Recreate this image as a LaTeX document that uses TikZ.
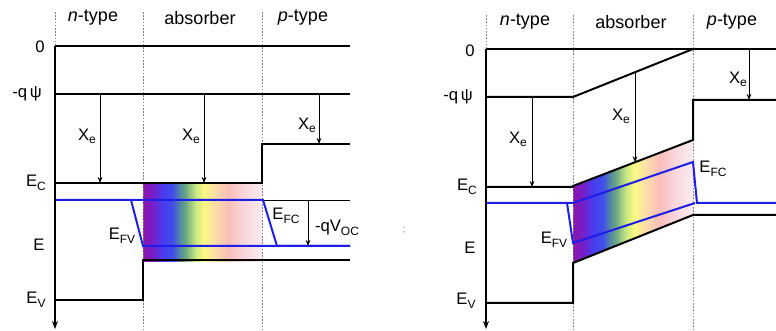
\documentclass[tikz,border=0pt]{standalone}
\usepackage{fontspec}
\setmainfont{Liberation Sans}
\usetikzlibrary{arrows.meta,calc}
\definecolor{fermiblue}{RGB}{30,30,230}
\definecolor{sp0}{RGB}{140,20,170}
\definecolor{sp1}{RGB}{120,30,200}
\definecolor{sp2}{RGB}{70,60,240}
\definecolor{sp3}{RGB}{65,80,235}
\definecolor{sp4}{RGB}{80,130,170}
\definecolor{sp5}{RGB}{110,170,130}
\definecolor{sp6}{RGB}{200,230,130}
\definecolor{sp7}{RGB}{250,250,130}
\definecolor{sp8}{RGB}{252,220,170}
\definecolor{sp9}{RGB}{250,190,185}
\definecolor{sp10}{RGB}{248,215,220}
\definecolor{sp11}{RGB}{250,236,242}
\pgfdeclarehorizontalshading{spectrum}{100bp}{color(0bp)=(sp0); color(25bp)=(sp0); color(29bp)=(sp1); color(33.5bp)=(sp2); color(37.5bp)=(sp3); color(40bp)=(sp4); color(43bp)=(sp5); color(47bp)=(sp6); color(50.5bp)=(sp7); color(55.5bp)=(sp8); color(61bp)=(sp9); color(67.5bp)=(sp10); color(75bp)=(sp11); color(100bp)=(sp11)}
\newcommand{\lsub}[1]{\raisebox{-0.5ex}{\fontsize{9}{9}\selectfont #1}}
\newcommand{\esub}[1]{\raisebox{-0.35ex}{\fontsize{9}{9}\selectfont #1}}
\tikzset{
  band/.style={line width=1.5pt, black},
  fermi/.style={line width=1.5pt, fermiblue},
  thinline/.style={line width=0.6pt, black},
  thinarrow/.style={line width=0.7pt, black, -{Stealth[length=4.5pt,width=3.5pt]}},
  axisline/.style={line width=1.5pt, black, -{Stealth[length=6pt,width=4.5pt]}},
  divider/.style={gray, line width=0.4pt, dash pattern=on 1.2pt off 1.2pt},
  lbl/.style={font=\fontsize{12.5}{14}\selectfont, inner sep=0pt},
  hdr/.style={font=\fontsize{13.5}{16}\selectfont, inner sep=0pt},
}
\begin{document}
\begin{tikzpicture}[x=0.75pt,y=-0.75pt]
\useasboundingbox (0,0) rectangle (776,331);
% ================= LEFT DIAGRAM =================
\coordinate (LdA1) at (55,12);   \coordinate (LdA2) at (55,46);
\coordinate (LdB1) at (143,12);  \coordinate (LdB2) at (143,331);
\coordinate (LdC1) at (262,12);  \coordinate (LdC2) at (262,331);
\shade[shading=spectrum] (143,184) rectangle (262,262);
\draw[divider] (LdA1) -- (LdA2);
\draw[divider] (LdB1) -- (LdB2);
\draw[divider] (LdC1) -- (LdC2);
\node[hdr] (Lhn) at (93,18) {\itshape n\upshape -type};
\node[hdr] (Lha) at (200,18) {absorber};
\node[hdr] (Lhp) at (303,18) {\itshape p\upshape -type};
% vacuum zero and -q psi
\coordinate (L0a) at (55,46);  \coordinate (L0b) at (350,46);
\coordinate (Lqa) at (55,94);  \coordinate (Lqb) at (350,94);
\draw[band] (L0a) -- (L0b);
\draw[band] (Lqa) -- (Lqb);
% conduction band
\coordinate (Lc1) at (55,183); \coordinate (Lc2) at (262,183);
\coordinate (Lc3) at (262,144); \coordinate (Lc4) at (350,144);
\draw[band] (Lc1) -- (Lc2) -- (Lc3) -- (Lc4);
% valence band
\coordinate (Lv1) at (55,300); \coordinate (Lv2) at (143,300);
\coordinate (Lv3) at (143,260); \coordinate (Lv4) at (350,260);
\draw[band] (Lv1) -- (Lv2) -- (Lv3) -- (Lv4);
% Fermi levels
\coordinate (Lf1) at (55,200);  \coordinate (Lf2) at (263,200);
\coordinate (Lf3) at (277,246); \coordinate (Lf4) at (350,246);
\coordinate (Lg1) at (131,200); \coordinate (Lg2) at (143,246);
\coordinate (Lt2) at (350,200);
\draw[thinline] (Lf2) -- (Lt2);
\draw[fermi] (Lg1) -- (Lg2) -- (Lf4);
\draw[fermi] (Lf1) -- (Lf2) -- (Lf3) -- (Lf4);
% electron affinity arrows
\coordinate (Lx1a) at (100,94);  \coordinate (Lx1b) at (100,183);
\coordinate (Lx2a) at (204,94);  \coordinate (Lx2b) at (204,183);
\coordinate (Lx3a) at (319,94);  \coordinate (Lx3b) at (319,144);
\draw[thinarrow] (Lx1a) -- (Lx1b);
\draw[thinarrow] (Lx2a) -- (Lx2b);
\draw[thinarrow] (Lx3a) -- (Lx3b);
\coordinate (Lva) at (308,200); \coordinate (Lvb) at (308,246);
\draw[thinarrow] (Lva) -- (Lvb);
% axis
\coordinate (Lax1) at (55,46); \coordinate (Lax2) at (55,329);
\draw[axisline] (Lax1) -- (Lax2);
% labels
\node[lbl] (Ll0) at (40,47) {0};
\node[lbl] (Llq) at (27,94) {-q\,ψ};
\node[lbl] (Llc) at (36,183) {E\lsub{C}};
\node[lbl] (Lle) at (39,245) {E};
\node[lbl] (Llv) at (36,300) {E\lsub{V}};
\node[lbl] (Lxe1) at (87,136) {X\esub{e}};
\node[lbl] (Lxe2) at (191,136) {X\esub{e}};
\node[lbl] (Lxe3) at (307,125) {X\esub{e}};
\node[lbl] (Llfv) at (122,236) {E\lsub{FV}};
\node[lbl] (Llfc) at (286,216) {E\lsub{FC}};
\node[lbl] (Llvoc) at (337,228) {-qV\lsub{OC}};
% ================= separator mark =================
\node[font=\fontsize{7}{7}\selectfont, text=gray, inner sep=0pt] (sep) at (404,231) {;};
% ================= RIGHT DIAGRAM =================
\coordinate (RdA1) at (486,15);  \coordinate (RdA2) at (486,49);
\coordinate (RdB1) at (573,15);  \coordinate (RdB2) at (573,331);
\coordinate (RdC1) at (693,15);  \coordinate (RdC2) at (693,331);
\coordinate (Rs1) at (573,186); \coordinate (Rs2) at (693,140);
\coordinate (Rs3) at (693,215); \coordinate (Rs4) at (573,263);
\shade[shading=spectrum] (Rs1) -- (Rs2) -- (Rs3) -- (Rs4) -- cycle;
\draw[divider] (RdA1) -- (RdA2);
\draw[divider] (RdB1) -- (RdB2);
\draw[divider] (RdC1) -- (RdC2);
\node[hdr] (Rhn) at (525,22) {\itshape n\upshape -type};
\node[hdr] (Rha) at (631,22) {absorber};
\node[hdr] (Rhp) at (732,22) {\itshape p\upshape -type};
% vacuum level
\coordinate (R0a) at (486,49); \coordinate (R0b) at (776,49);
\draw[band] (R0a) -- (R0b);
\coordinate (Rq1) at (486,97); \coordinate (Rq2) at (573,97); \coordinate (Rq3) at (693,49);
\draw[band] (Rq1) -- (Rq2) -- (Rq3);
% conduction band
\coordinate (Rc1) at (486,187); \coordinate (Rc2) at (573,187);
\coordinate (Rc3) at (693,140); \coordinate (Rc4) at (693,100); \coordinate (Rc5) at (776,100);
\draw[band] (Rc1) -- (Rc2) -- (Rs1) -- (Rc3) -- (Rc4) -- (Rc5);
% valence band
\coordinate (Rv1) at (486,303); \coordinate (Rv2) at (573,303);
\coordinate (Rv3) at (573,263); \coordinate (Rv4) at (693,215); \coordinate (Rv5) at (776,215);
\draw[band] (Rv1) -- (Rv2) -- (Rv3) -- (Rv4) -- (Rv5);
% Fermi levels
\coordinate (Rf1) at (486,203); \coordinate (Rf2) at (573,203);
\coordinate (Rf3) at (693,162); \coordinate (Rf4) at (697,203); \coordinate (Rf5) at (776,203);
\coordinate (Rg1) at (567,203); \coordinate (Rg2) at (573,243); \coordinate (Rg3) at (695,203);
\draw[fermi] (Rf1) -- (Rf2) -- (Rf3) -- (Rf4) -- (Rf5);
\draw[fermi] (Rg1) -- (Rg2) -- (Rg3);
% electron affinity arrows
\coordinate (Rx1a) at (532,97);  \coordinate (Rx1b) at (532,187);
\coordinate (Rx2a) at ($(Rq2)!0.517!(Rq3)$);
\coordinate (Rx2b) at ($(Rs1)!0.517!(Rc3)$);
\coordinate (Rx3a) at (749,49);  \coordinate (Rx3b) at (749,100);
\draw[thinarrow] (Rx1a) -- (Rx1b);
\draw[thinarrow] (Rx2a) -- (Rx2b);
\draw[thinarrow] (Rx3a) -- (Rx3b);
% axis
\coordinate (Rax1) at (486,49); \coordinate (Rax2) at (486,329);
\draw[axisline] (Rax1) -- (Rax2);
% labels
\node[lbl] (Rl0) at (470,51) {0};
\node[lbl] (Rlq) at (458,97) {-q\,ψ};
\node[lbl] (Rlc) at (467,187) {E\lsub{C}};
\node[lbl] (Rle) at (470,248) {E};
\node[lbl] (Rlv) at (466,301) {E\lsub{V}};
\node[lbl] (Rxe1) at (518,139) {X\esub{e}};
\node[lbl] (Rxe2) at (621,116) {X\esub{e}};
\node[lbl] (Rxe3) at (738,79) {X\esub{e}};
\node[lbl] (Rlfv) at (554,240) {E\lsub{FV}};
\node[lbl] (Rlfc) at (713,169) {E\lsub{FC}};
\end{tikzpicture}
\end{document}
